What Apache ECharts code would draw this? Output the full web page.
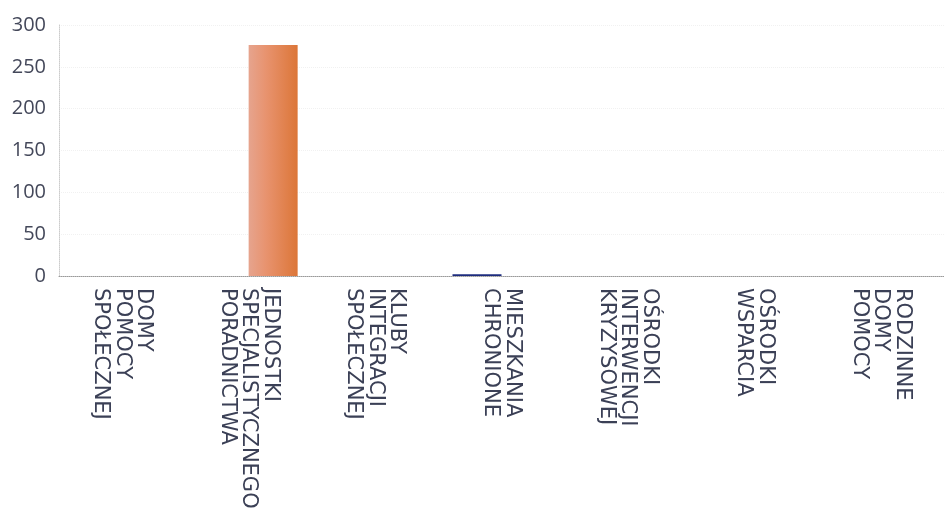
<!DOCTYPE html>
<html>
<head>
<meta charset="utf-8">
<script src="https://cdn.jsdelivr.net/npm/echarts@6/dist/echarts.min.js"></script>
<style>
html, body { margin: 0; padding: 0; background: #fff; }
#chart { width: 944px; height: 518px; }
</style>
</head>
<body>
<div id="chart"></div>
<script>
var categories = [
    'DOMY\nPOMOCY\nSPOŁECZNEJ',
    'JEDNOSTKI\nSPECJALISTYCZNEGO\nPORADNICTWA',
    'KLUBY\nINTEGRACJI\nSPOŁECZNEJ',
    'MIESZKANIA\nCHRONIONE',
    'OŚRODKI\nINTERWENCJI\nKRYZYSOWEJ',
    'OŚRODKI\nWSPARCIA',
    'RODZINNE\nDOMY\nPOMOCY'
];
var blueValues = [0, 0, 0, 2, 0, 0, 0];
var orangeValues = [0, 276, 0, 0, 0, 0, 0];
var yTicks = [0, 50, 100, 150, 200, 250, 300];

function get_option(){
    var option = {
        animation: false,
        grid: {
            left: 59,
            right: 0,
            top: 25,
            bottom: 242
        },
        xAxis: {
            type: 'category',
            data: categories,
            axisTick: { show: false },
            axisLine: {
                lineStyle: { color: '#9a9a9a', type: 'dotted', width: 1 }
            },
            axisLabel: {
                rotate: -90,
                interval: 0,
                margin: 12,
                color: '#3b4056',
                fontFamily: 'DejaVu Sans',
                fontSize: 21,
                lineHeight: 21.5
            }
        },
        yAxis: {
            type: 'value',
            min: yTicks[0],
            max: yTicks[yTicks.length - 1],
            interval: 50,
            axisLine: {
                show: true,
                lineStyle: { color: '#cccccc', type: 'dotted' }
            },
            axisTick: { show: false },
            splitLine: {
                lineStyle: { color: '#f1f1f1', type: 'dotted' }
            },
            axisLabel: {
                margin: 13,
                color: '#44485a',
                fontFamily: 'Open Sans',
                fontSize: 20
            }
        },
        series: [
            {
                type: 'bar',
                data: blueValues,
                barWidth: 49,
                barGap: '0%',
                itemStyle: { color: '#1d2c7e' }
            },
            {
                type: 'bar',
                data: orangeValues,
                barWidth: 49,
                barGap: '0%',
                itemStyle: {
                    color: new echarts.graphic.LinearGradient(0, 0, 1, 0, [
                        { offset: 0, color: '#e6a48e' },
                        { offset: 0.35, color: '#e8936f' },
                        { offset: 1, color: '#dc7638' }
                    ])
                }
            }
        ]
    };
    return option;
}

var myChart = echarts.init(document.getElementById('chart'));
myChart.setOption(get_option());
</script>
</body>
</html>
